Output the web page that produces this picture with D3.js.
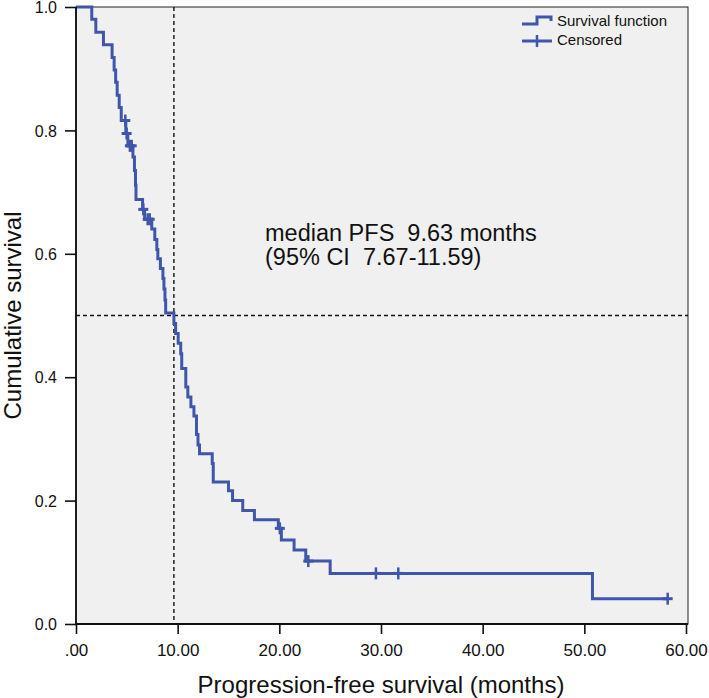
<!DOCTYPE html>
<html>
<head>
<meta charset="utf-8">
<script src="https://cdn.jsdelivr.net/npm/d3@7"></script>
<style>
  html, body { margin: 0; padding: 0; background: #fff; }
  svg { display: block; }
  text { font-family: "Liberation Sans", Arial, Helvetica, sans-serif; fill: #111; white-space: pre; }
</style>
</head>
<body>
<svg id="chart" width="709" height="698"></svg>
<script>
// ---- data ----
const eventTimes = [1.55, 1.95, 2.70, 3.55, 3.75, 3.90, 4.05, 4.25, 4.45, 4.90, 5.10, 5.60, 5.75, 5.85, 5.90,
  6.55, 6.75, 7.45, 7.75, 7.95, 8.05, 8.30, 8.55, 8.65, 8.75, 8.82, 9.63, 9.80, 10.05, 10.30, 10.40,
  10.80, 11.00, 11.30, 11.60, 11.85, 12.00, 12.15, 13.40, 13.50, 15.00, 15.40, 16.40, 17.55,
  19.90, 20.20, 21.45, 22.60, 25.00, 50.80];
const survival = [0.980, 0.959, 0.939, 0.918, 0.898, 0.878, 0.857, 0.837, 0.816, 0.795, 0.775, 0.757, 0.735, 0.711, 0.688,
  0.672, 0.656, 0.640, 0.623, 0.607, 0.592, 0.576, 0.560, 0.543, 0.525, 0.504, 0.487, 0.471, 0.455, 0.438, 0.414,
  0.384, 0.368, 0.352, 0.337, 0.307, 0.290, 0.276, 0.260, 0.230, 0.216, 0.200, 0.184, 0.169,
  0.155, 0.136, 0.120, 0.102, 0.082, 0.041];
const censorTimes = [4.85, 4.98, 5.30, 5.48, 6.62, 7.05, 7.25, 20.05, 22.85, 29.5, 31.7, 58.2];
const censorSurv  = [0.816, 0.795, 0.775, 0.775, 0.672, 0.656, 0.656, 0.155, 0.102, 0.082, 0.082, 0.041];
const xTicks = [0, 10, 20, 30, 40, 50, 60];
const yTicks = [0, 0.2, 0.4, 0.6, 0.8, 1.0];
const medianTime = 9.63;
const medianLines = ["median PFS  9.63 months", "(95% CI  7.67-11.59)"];
const legendLabels = ["Survival function", "Censored"];
const xTitle = "Progression-free survival (months)";
const yTitle = "Cumulative survival";

// ---- layout ----
const pL = 76, pR = 688, pT = 7, pB = 624;
const blue = "#3f56aa";
const svg = d3.select("#chart");
const x = d3.scaleLinear().domain([0, 60]).range([pL, 686]);
const y = d3.scaleLinear().domain([0, 1]).range([pB, pT]);

// plot background + frame
svg.append("rect").attr("x", pL).attr("y", pT).attr("width", pR - pL).attr("height", pB - pT)
  .attr("fill", "#f0f0f0").attr("stroke", "#222").attr("stroke-width", 1);

// reference dashed lines
svg.append("line").attr("x1", x(medianTime)).attr("x2", x(medianTime)).attr("y1", pT).attr("y2", pB)
  .attr("stroke", "#111").attr("stroke-width", 1.4).attr("stroke-dasharray", "4,3");
svg.append("line").attr("x1", pL).attr("x2", pR).attr("y1", y(0.5)).attr("y2", y(0.5))
  .attr("stroke", "#111").attr("stroke-width", 1.4).attr("stroke-dasharray", "4,3");

// survival curve
const pts = [[0, 1]].concat(eventTimes.map((t, i) => [t, survival[i]]));
pts.push([censorTimes[censorTimes.length - 1], survival[survival.length - 1]]);
const line = d3.line().x(d => x(d[0])).y(d => y(d[1])).curve(d3.curveStepAfter);
svg.append("path").attr("d", line(pts)).attr("fill", "none").attr("stroke", blue).attr("stroke-width", 3);

// censored marks
const cg = svg.append("g");
censorTimes.forEach((t, i) => {
  const cx = x(t), cy = y(censorSurv[i]);
  cg.append("line").attr("x1", cx).attr("x2", cx).attr("y1", cy - 6).attr("y2", cy + 6)
    .attr("stroke", blue).attr("stroke-width", 2.5);
  cg.append("line").attr("x1", cx - 5).attr("x2", cx + 5).attr("y1", cy).attr("y2", cy)
    .attr("stroke", blue).attr("stroke-width", 3);
});

// axes
const xAxis = d3.axisBottom(x).tickValues(xTicks).tickSize(10).tickSizeOuter(0)
  .tickFormat(d => d === 0 ? ".00" : d3.format(".2f")(d));
const gx = svg.append("g").attr("transform", `translate(0,${pB})`).call(xAxis);
gx.select(".domain").remove();
gx.selectAll(".tick line").attr("stroke", "#111").attr("stroke-width", 1.6);
gx.selectAll(".tick text").attr("font-size", 17).attr("font-family", "Liberation Sans, Arial, sans-serif")
  .attr("dy", "1.1em").attr("fill", "#111");

const yAxis = d3.axisLeft(y).tickValues(yTicks).tickSize(11).tickSizeOuter(0).tickFormat(d3.format(".1f"));
const gy = svg.append("g").attr("transform", `translate(${pL},0)`).call(yAxis);
gy.select(".domain").remove();
gy.selectAll(".tick line").attr("stroke", "#111").attr("stroke-width", 1.6);
gy.selectAll(".tick text").attr("font-size", 16).attr("font-family", "Liberation Sans, Arial, sans-serif")
  .attr("x", -19).attr("dy", "0.36em").attr("fill", "#111");

svg.append("line").attr("x1", pL).attr("x2", pR).attr("y1", pB).attr("y2", pB)
  .attr("stroke", "#111").attr("stroke-width", 1.8);
svg.append("line").attr("x1", pL).attr("x2", pL).attr("y1", pT).attr("y2", pB)
  .attr("stroke", "#111").attr("stroke-width", 1.8);

// axis titles
svg.append("text").attr("x", (pL + 686) / 2).attr("y", 693).attr("text-anchor", "middle")
  .attr("font-size", 24).text(xTitle);
svg.append("text").attr("transform", `translate(21,${(pT + pB) / 2}) rotate(-90)`)
  .attr("text-anchor", "middle").attr("font-size", 24).text(yTitle);

// median annotation
medianLines.forEach((s, i) => {
  svg.append("text").attr("x", 265).attr("y", 241 + i * 24).attr("font-size", 23.5)
    .attr("xml:space", "preserve").text(s);
});

// legend
const lg = svg.append("g");
lg.append("path").attr("d", "M522,24 H537 V17 H551 V21").attr("fill", "none").attr("stroke", blue).attr("stroke-width", 3);
lg.append("line").attr("x1", 522).attr("x2", 552).attr("y1", 41).attr("y2", 41).attr("stroke", blue).attr("stroke-width", 3);
lg.append("line").attr("x1", 537).attr("x2", 537).attr("y1", 35).attr("y2", 47).attr("stroke", blue).attr("stroke-width", 2.5);
legendLabels.forEach((s, i) => {
  lg.append("text").attr("x", 557).attr("y", 26 + i * 19).attr("font-size", 15).text(s);
});
</script>
</body>
</html>
